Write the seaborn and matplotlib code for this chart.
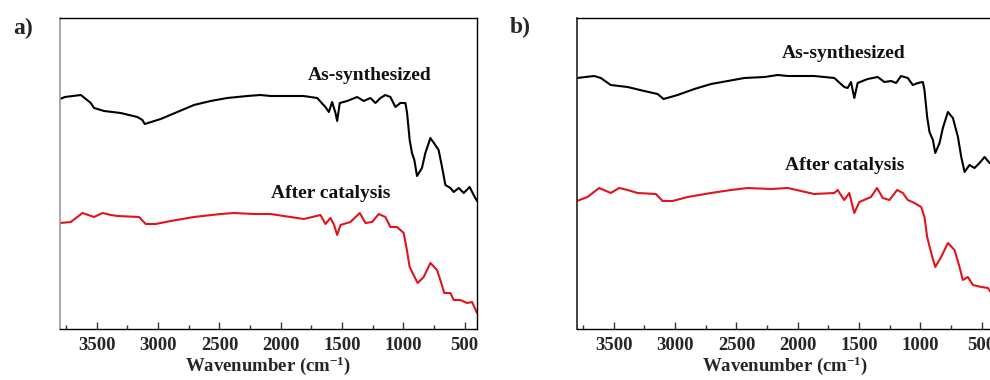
import matplotlib
matplotlib.use("Agg")
import matplotlib.pyplot as plt
import seaborn as sns
from matplotlib.ticker import MultipleLocator

# FTIR spectra, wavenumber (cm-1) vs transmittance (arbitrary units)
wn_as_a = [3800, 3760, 3630, 3549, 3522, 3440, 3305, 3169, 3128, 3109, 2979, 2843, 2708, 2572,
           2436, 2273, 2165, 2083, 1814, 1703, 1636, 1608, 1581, 1554, 1540, 1519, 1459, 1377,
           1323, 1269, 1228, 1187, 1147, 1106, 1065, 1025, 984, 970, 949, 930, 911, 889, 849,
           821, 780, 740, 713, 685, 658, 617, 590, 549, 508, 460, 427, 400]
t_as_a = [230, 232, 234, 226, 221, 218, 216, 212, 209, 205, 210, 217, 224, 228,
          231, 233, 234, 233, 233, 231, 222, 217, 227, 216, 208, 226, 228, 232,
          228, 231, 226, 231, 234, 232, 222, 226, 226, 216, 189, 176, 169, 153, 161,
          176, 191, 184, 179, 162, 144, 141, 137, 141, 136, 142, 134, 128]

wn_cat_a = [3800, 3712, 3617, 3522, 3454, 3386, 3331, 3156, 3101, 3020, 2897, 2708, 2490,
            2382, 2219, 2083, 1812, 1676, 1636, 1595, 1568, 1540, 1513, 1432, 1356, 1309,
            1255, 1201, 1147, 1106, 1052, 998, 976, 949, 917, 884, 835, 780, 726, 699, 667,
            617, 590, 536, 481, 440, 400]
t_cat_a = [106, 107, 116, 112, 116, 114, 113, 112, 105, 105, 108, 112, 115,
           116, 115, 115, 110, 114, 105, 111, 105, 94, 104, 107, 116, 106,
           107, 115, 112, 102, 102, 96, 82, 62, 54, 46, 52, 66, 59, 49, 36,
           36, 29, 29, 26, 27, 16]

wn_as_b = [3800, 3660, 3606, 3525, 3388, 3252, 3143, 3094, 2980, 2843, 2707, 2571, 2435,
           2271, 2163, 2081, 1866, 1702, 1621, 1593, 1566, 1539, 1512, 1430, 1348, 1294,
           1239, 1198, 1158, 1103, 1062, 1021, 980, 967, 945, 926, 898, 879, 844, 817, 776,
           735, 694, 667, 640, 600, 559, 518, 477, 436, 400]
t_as_b = [251, 253, 251, 244, 242, 238, 235, 230, 234, 240, 245, 248, 251,
          252, 254, 253, 253, 251, 242, 241, 247, 231, 246, 250, 252, 247,
          248, 246, 253, 251, 244, 246, 247, 239, 212, 197, 189, 176, 186, 201, 217,
          211, 192, 172, 157, 164, 161, 166, 172, 166, 164]

wn_cat_b = [3800, 3715, 3619, 3525, 3456, 3388, 3306, 3157, 3102, 3020, 2898, 2707, 2544,
            2408, 2217, 2081, 1866, 1702, 1675, 1621, 1580, 1539, 1498, 1403, 1354, 1307,
            1253, 1190, 1143, 1103, 1048, 994, 967, 945, 912, 879, 831, 776, 722, 681, 654,
            613, 572, 504, 450, 422, 400]
t_cat_b = [128, 132, 141, 136, 141, 139, 136, 135, 128, 128, 132, 136, 139,
           141, 140, 141, 135, 136, 139, 129, 136, 116, 127, 132, 141, 131,
           129, 139, 136, 129, 126, 122, 112, 92, 76, 62, 72, 86, 79, 62, 49,
           52, 44, 42, 41, 36, 34]

sns.set_theme(style="white")
plt.rcParams['font.family'] = ['Liberation Serif', 'DejaVu Serif']
plt.rcParams['font.weight'] = 'bold'
plt.rcParams['mathtext.fontset'] = 'custom'
plt.rcParams['mathtext.rm'] = 'Liberation Serif:bold'
plt.rcParams['mathtext.default'] = 'rm'

fig = plt.figure(figsize=(9.9, 3.8), dpi=100)
ax_a = fig.add_axes([60 / 990, 51 / 380, 417 / 990, 311 / 380])
ax_b = fig.add_axes([577 / 990, 51 / 380, 417 / 990, 311 / 380])

red = '#e0141c'
panels = [
    (ax_a, wn_as_a, t_as_a, wn_cat_a, t_cat_a, (1273, 253), (1590, 135), '#9a9a9a'),
    (ax_b, wn_as_b, t_as_b, wn_cat_b, t_cat_b, (1623, 276), (1619, 163), '#222222'),
]

for ax, wx, wy, cx, cy, pos_as, pos_cat, left_col in panels:
    sns.lineplot(x=wx, y=wy, ax=ax, color='black', linewidth=1.5)
    sns.lineplot(x=cx, y=cy, ax=ax, color=red, linewidth=1.5)
    ax.set_xlim(3800, 400)
    ax.set_ylim(0, 311)
    ax.set_yticks([])
    ax.xaxis.set_major_locator(MultipleLocator(500))
    ax.xaxis.set_minor_locator(MultipleLocator(250))
    ax.tick_params(axis='x', which='major', direction='in', length=5, width=1,
                   labelsize=13.5, pad=6, bottom=True, color='#333333')
    ax.tick_params(axis='x', which='minor', direction='in', length=3, width=1,
                   bottom=True, color='#333333')
    for lab in ax.get_xticklabels():
        lab.set_fontweight('bold')
    for side in ['top', 'right', 'bottom']:
        ax.spines[side].set_color('black')
        ax.spines[side].set_linewidth(1)
    ax.spines['left'].set_color(left_col)
    ax.spines['left'].set_linewidth(1.2)
    ax.set_xlabel('Wavenumber (cm$^{-1}$)', fontsize=13.5, fontweight='bold', labelpad=0)
    ax.set_ylabel('')
    ax.text(pos_as[0], pos_as[1], 'As-synthesized', ha='center', va='center',
            fontsize=14, fontweight='bold', color='#111111')
    ax.text(pos_cat[0], pos_cat[1], 'After catalysis', ha='center', va='center',
            fontsize=14, fontweight='bold', color='#111111')

fig.text(23 / 990, 1 - 28 / 380, 'a)', ha='center', va='center', fontsize=17, fontweight='bold')
fig.text(520 / 990, 1 - 27 / 380, 'b)', ha='center', va='center', fontsize=17, fontweight='bold')

fig.savefig('out.png', dpi=100)
